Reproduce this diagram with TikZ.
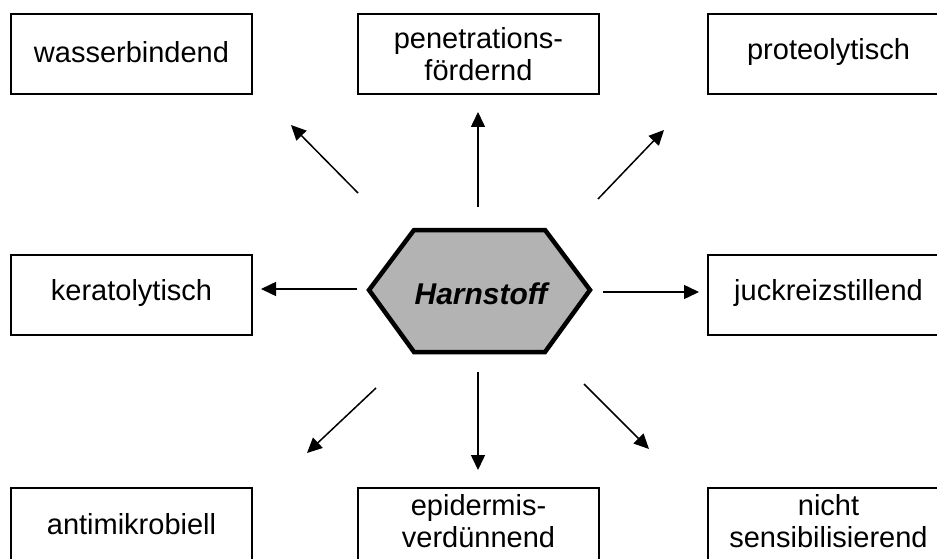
\documentclass[tikz,border=0pt]{standalone}
\usepackage{fontspec}
\setmainfont{Liberation Sans}
\usetikzlibrary{arrows.meta}
\definecolor{hexgray}{RGB}{179,179,179}
\begin{document}
\begin{tikzpicture}[x=1pt,y=-1pt,
  box/.style={draw,line width=1.3pt,minimum width=241pt,minimum height=80pt,inner sep=0pt},
  txt/.style={inner sep=0pt,align=center,font=\fontsize{29}{32}\selectfont},
  arr/.style={line width=1.5pt,-{Triangle[length=15pt,width=14pt]}}]
\useasboundingbox (0,0) rectangle (937,559);
\clip (0,0) rectangle (937,559);
\fill[white] (0,0) rectangle (937,559);
% boxes
\node[box] (wb) at (131.5,54) {};
\node[txt] at (wb.center) [yshift=2pt] {wasserbindend};
\node[box] (pf) at (478.5,54) {};
\node[txt] at (pf.center) [yshift=0pt] {penetrations-\\fördernd};
\node[box] (pr) at (828.5,54) {};
\node[txt] at (pr.center) [yshift=2pt] {proteolytisch};
\node[box] (ke) at (131.5,295) {};
\node[txt] at (ke.center) [yshift=2pt] {keratolytisch};
\node[box] (ju) at (828.5,295) {};
\node[txt] at (ju.center) [yshift=2pt] {juckreizstillend};
\node[box] (am) at (131.5,528) {};
\node[txt] at (am.center) [yshift=4pt] {antimikrobiell};
\node[box] (ep) at (478.5,528) {};
\node[txt] at (ep.center) [yshift=7pt] {epidermis-\\verdünnend};
\node[box] (ns) at (828.5,528) {};
\node[txt] at (ns.center) [yshift=7pt] {nicht\\sensibilisierend};
% hexagon
\draw[line width=4.5pt,fill=hexgray,line join=miter]
  (369,290) -- (414,230) -- (545,230) -- (590,290) -- (545,352) -- (414,352) -- cycle;
\node[font=\fontsize{30}{34}\selectfont\bfseries\itshape] (ha) at (481,294) {Harnstoff};
% arrow endpoints
\coordinate (t1) at (358,193); \coordinate (h1) at (291,125);
\coordinate (t2) at (478,207); \coordinate (h2) at (478,112);
\coordinate (t3) at (598,199); \coordinate (h3) at (664,130);
\coordinate (t4) at (357,289); \coordinate (h4) at (261,289);
\coordinate (t5) at (603,292); \coordinate (h5) at (699,292);
\coordinate (t6) at (376,388); \coordinate (h6) at (307,453);
\coordinate (t7) at (478,372); \coordinate (h7) at (478,470);
\coordinate (t8) at (584,384); \coordinate (h8) at (649,449);
\foreach \i in {1,...,8} {\draw[arr] (t\i) -- (h\i);}
\end{tikzpicture}
\end{document}
